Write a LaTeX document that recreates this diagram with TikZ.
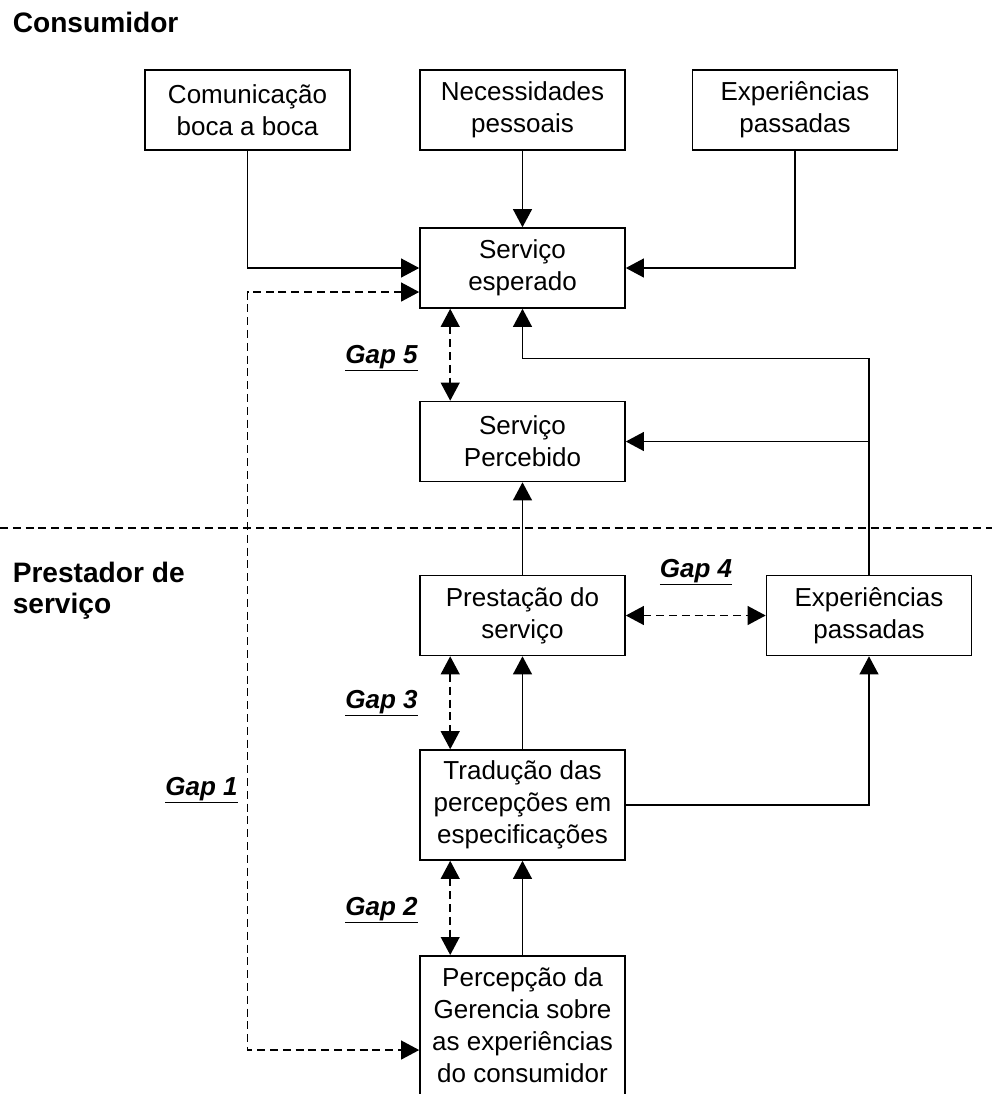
\documentclass[tikz,border=0pt]{standalone}
\usepackage{fontspec}
\setmainfont{Liberation Sans}
\usetikzlibrary{arrows.meta}

\newcommand{\boxfont}{\fontsize{18.5}{22.8}\selectfont}
\newcommand{\titlefont}{\fontsize{20}{22.2}\selectfont\bfseries}
\newcommand{\gapfont}{\fontsize{18.5}{22}\selectfont\bfseries\itshape}

\begin{document}
\begin{tikzpicture}[x=0.025cm,y=-0.025cm,line width=1.1pt,
	>={Triangle[length=0.45cm,width=0.47cm]},
	box/.style={draw,minimum width=5.125cm,minimum height=2cm,align=center,font=\boxfont},
	gapline/.style={<->,dash pattern=on 0.2cm off 0.12cm},
	gaplabel/.style={anchor=base,inner sep=0,font=\gapfont},
	titlelabel/.style={inner sep=0,align=left,font=\titlefont}]
				\useasboundingbox (0,0) rectangle (992,1094);
				% titulos
				\node[titlelabel,anchor=base west] (consumidor) at (12,32) {Consumidor};
				\node[titlelabel,anchor=north west] (prestador) at (12,561.5) {Prestador de\\serviço};
				% consumidor
				\node[box] (comunic) at (247.5,110) {Comunicação\\boca a boca};
				\node[box] (necess) at (522.5,110) {Necessidades\\pessoais};
				\node[box] (expcons) at (795,110) {Experiências\\passadas};
				\node[box] (esperado) at (522.5,268) {Serviço\\esperado};
				\node[box] (percebido) at (522.5,441.5) {Serviço\\Percebido};
				% prestador
				\node[box] (prestacao) at (522.5,615.5) {Prestação do\\serviço};
				\node[box] (expprest) at (869,615.5) {Experiências\\passadas};
				\node[box,minimum height=2.75cm] (traducao) at (522.5,805) {Tradução das\\percepções em\\especificações};
				\node[box,anchor=north,inner ysep=0.3cm,text depth=2cm] (percepcao) at (522.5,955) {Percepção da\\Gerencia sobre\\as experiências\\do consumidor};
				% gaps
				\node[gaplabel] (gap5) at (381.5,363) {\underline{Gap 5}};
				\node[gaplabel] (gap4) at (696,577) {\underline{Gap 4}};
				\node[gaplabel] (gap3) at (381.5,708) {\underline{Gap 3}};
				\node[gaplabel] (gap2) at (381.5,915) {\underline{Gap 2}};
				\node[gaplabel] (gap1) at (201.5,795) {\underline{Gap 1}};
				% linha divisoria
				\draw[dash pattern=on 0.2cm off 0.12cm] (0,528) -- (992,528);
				% setas
				\draw[->] (comunic.south) |- (esperado.west);
				\draw[->] (necess) -- (esperado);
				\draw[->] (expcons.south) |- (esperado.east);
				\draw[->] (expprest.north) |- ([yshift=1.05cm]percebido.north) -- (esperado.south);
				\draw[->] (expprest.north |- percebido.east) -- (percebido.east);
				\draw[->] (prestacao) -- (percebido);
				\draw[->] (traducao) -- (prestacao);
				\draw[->] (traducao.east) -| (expprest.south);
				\draw[->] (percepcao.north) -- (traducao.south);
				% linhas tracejadas
				\coordinate (g1) at ([yshift=-2.375cm]percepcao.north west);
				\draw[gapline] ([yshift=-0.6cm]esperado.west) -| (comunic.south |- g1) -- (g1);
				\draw[gapline] ([xshift=0.775cm]esperado.south west) -- ([xshift=0.775cm]percebido.north west);
				\draw[gapline] (prestacao.east) -- (expprest.west);
				\draw[gapline] ([xshift=0.775cm]prestacao.south west) -- ([xshift=0.775cm]traducao.north west);
				\draw[gapline] ([xshift=0.775cm]traducao.south west) -- ([xshift=0.775cm]percepcao.north west);
			\end{tikzpicture}
\end{document}
